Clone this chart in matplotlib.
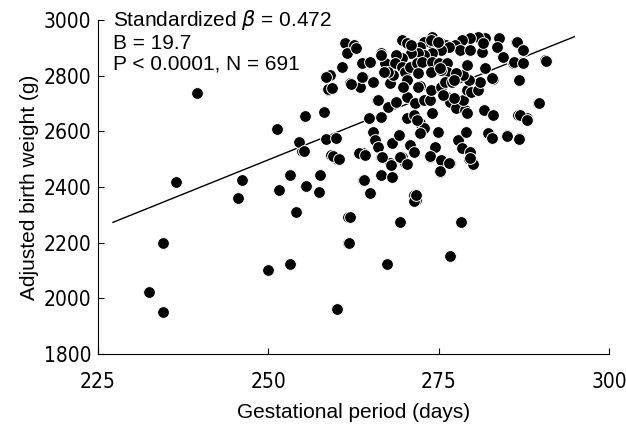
import matplotlib.pyplot as plt

plt.rcParams['font.family'] = ['Liberation Sans', 'DejaVu Sans']

# gestational period (days) and adjusted birth weight (g)
days = [
    232.5, 234.6, 234.6, 236.4, 239.5, 246.1, 245.6, 250.0, 253.2, 260.1,
    254.0, 251.6, 253.2, 255.5, 257.5, 257.6, 255.0, 259.2, 260.1, 261.7,
    261.7, 251.2, 255.4, 258.1, 258.8, 259.1, 258.5, 254.5, 255.2, 258.5,
    260.0, 261.3, 262.5, 261.5, 262.9, 260.8, 258.7, 262.0, 263.5, 263.9,
    263.7, 264.9, 265.4, 266.6, 267.9, 267.1, 265.9, 264.7, 266.6, 265.4,
    265.7, 266.1, 268.1, 269.1, 270.8, 271.3, 269.6, 266.6, 267.9, 263.9,
    263.9, 266.6, 268.1, 271.3, 271.7, 270.1, 273.7, 274.5, 274.9, 275.2,
    276.7, 277.9, 278.4, 279.0, 279.6, 280.1, 282.3, 282.8, 285.0, 286.8,
    286.7, 287.9, 289.6, 281.6, 283.0, 267.6, 268.8, 270.3, 271.5, 272.8,
    270.3, 271.3, 272.3, 272.8, 274.0, 273.7, 276.2, 276.7, 277.6, 278.9,
    278.6, 279.1, 279.8, 280.8, 281.1, 279.4, 278.6, 279.1, 281.8, 283.0,
    284.5, 285.9, 286.8, 287.4, 283.8, 283.6, 286.4, 287.4, 290.6, 281.8,
    280.8, 279.6, 278.4, 277.4, 278.1, 279.6, 281.3, 281.5, 274.0, 273.7,
    272.8, 272.3, 269.6, 270.3, 275.3, 276.0, 276.5, 275.3, 274.0, 272.8,
    272.0, 271.0, 269.6, 268.8, 268.6, 269.6, 270.1, 270.8, 271.8, 272.5,
    274.0, 275.0, 276.2, 276.2, 275.3, 273.8, 272.0, 270.3, 268.3, 267.6,
    266.9, 269.8, 272.3, 273.8, 275.3, 275.9, 276.9, 277.6, 267.4, 269.3,
    271.3, 271.7, 276.6, 278.2, 264.0, 264.9, 266.5, 268.1, 268.0, 266.7,
    269.3, 270.3, 273.7, 275.4, 275.2, 276.5, 279.5, 280.0, 263.3, 264.2,
    259.5, 260.3, 286.5, 287.3, 284.5, 286.1, 287.3, 290.8, 286.8, 289.7,
    286.9, 288.0, 285.0, 286.8, 266.6, 271.0, 273.8, 263.8, 262.2, 272.0,
    266.1, 259.3, 274.9, 282.8, 277.2, 275.2, 277.2, 275.7, 272.3, 271.8,
    279.1, 279.6, 261.9, 262.0,
]
weight = [
    2022, 1952, 2200, 2418, 2737, 2424, 2361, 2102, 2122, 1962,
    2311, 2389, 2443, 2404, 2383, 2443, 2529, 2515, 2501, 2293,
    2200, 2608, 2656, 2668, 2748, 2802, 2796, 2561, 2530, 2572,
    2575, 2916, 2910, 2880, 2898, 2832, 2751, 2773, 2760, 2794,
    2844, 2850, 2778, 2880, 2773, 2844, 2713, 2647, 2650, 2599,
    2569, 2545, 2557, 2587, 2551, 2527, 2509, 2509, 2485, 2521,
    2425, 2443, 2437, 2371, 2353, 2485, 2509, 2545, 2599, 2455,
    2485, 2569, 2539, 2599, 2527, 2485, 2593, 2575, 2587, 2575,
    2659, 2647, 2701, 2677, 2659, 2689, 2706, 2724, 2701, 2713,
    2647, 2659, 2629, 2611, 2665, 2713, 2724, 2706, 2683, 2677,
    2713, 2748, 2742, 2748, 2778, 2784, 2802, 2838, 2826, 2788,
    2868, 2844, 2784, 2844, 2934, 2904, 2922, 2892, 2856, 2934,
    2940, 2934, 2928, 2910, 2892, 2892, 2886, 2916, 2940, 2922,
    2922, 2904, 2928, 2916, 2916, 2910, 2904, 2892, 2880, 2874,
    2880, 2880, 2862, 2874, 2844, 2832, 2814, 2832, 2844, 2850,
    2850, 2844, 2844, 2814, 2820, 2814, 2808, 2784, 2802, 2814,
    2814, 2760, 2763, 2748, 2758, 2778, 2778, 2808, 2124, 2274,
    2351, 2370, 2153, 2275, 2424, 2378, 2443, 2435, 2479, 2507,
    2507, 2483, 2511, 2497, 2459, 2485, 2501, 2483, 2521, 2515,
    2511, 2500, 2922, 2892, 2868, 2848, 2844, 2853, 2784, 2701,
    2659, 2641, 2584, 2572, 2874, 2910, 2928, 2796, 2769, 2760,
    2713, 2755, 2922, 2790, 2784, 2826, 2719, 2730, 2593, 2641,
    2665, 2503, 2198, 2292,
]

# fitted regression line endpoints
line_days = [227.2, 294.9]
line_weight = [2273, 2940]

fig = plt.figure(figsize=(6.26, 4.28), dpi=100)
ax = fig.add_axes([0.1565, 0.1729, 0.8165, 0.7804])

ax.plot(line_days, line_weight, color='black', linewidth=1.0, zorder=1)
ax.scatter(days, weight, s=72, color='black', edgecolors='white', linewidths=0.7, zorder=2)

ax.set_xlim(225, 300)
ax.set_ylim(1800, 3000)
ax.set_xticks([225, 250, 275, 300])
ax.set_yticks([1800, 2000, 2200, 2400, 2600, 2800, 3000])
ax.spines['top'].set_visible(False)
ax.spines['right'].set_visible(False)
ax.tick_params(direction='in', length=4, labelsize=15)
ax.tick_params(axis='x', pad=13)
ax.tick_params(axis='y', pad=5)
for lab in ax.get_xticklabels() + ax.get_yticklabels():
    lab.set_family('DejaVu Sans')
    lab.set_fontstretch('condensed')

ax.set_xlabel('Gestational period (days)', fontsize=15, labelpad=8)
ax.set_ylabel('Adjusted birth weight (g)', fontsize=15, labelpad=3)

ax.text(0.03, 1.035, 'Standardized $\\beta$ = 0.472\nB = 19.7\nP < 0.0001, N = 691',
        transform=ax.transAxes, fontsize=15, va='top', ha='left', linespacing=1.12)

fig.savefig('out.png', dpi=100)
